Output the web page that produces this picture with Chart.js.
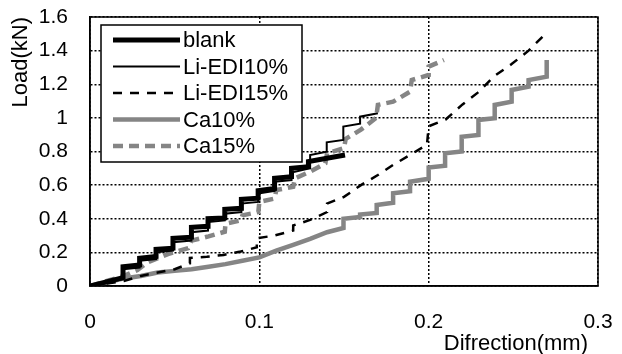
<!DOCTYPE html>
<html lang="en">
<head>
    <meta charset="UTF-8">
    <title>Load vs Difrection</title>
    <script src="https://cdn.jsdelivr.net/npm/chart.js"></script>
    <style>
        body { margin: 0; background: #fff; }
        #wrap { width: 622px; height: 354px; }
    </style>
</head>
<body>
    <div id="wrap"><canvas id="chart" width="622" height="354"></canvas></div>

    <script>
        // values (x = difrection in mm, y = load in kN)
        const blankX = [0,0.0195,0.0195,0.0293,0.0293,0.039,0.039,0.049,0.049,0.0599,0.0599,0.0697,0.0697,0.0796,0.0796,0.0894,0.0894,0.0993,0.0993,0.109,0.109,0.119,0.119,0.129,0.129,0.1506];
        const blankY = [0,0.05,0.115,0.125,0.165,0.175,0.218,0.225,0.284,0.29,0.349,0.355,0.40,0.405,0.456,0.462,0.516,0.522,0.567,0.58,0.641,0.65,0.70,0.71,0.74,0.779];

        const li10X = [0,0.0195,0.0195,0.0293,0.0293,0.039,0.039,0.049,0.049,0.0599,0.0599,0.0697,0.0697,0.0796,0.0796,0.0894,0.0894,0.0993,0.0993,0.109,0.109,0.119,0.119,0.13,0.13,0.1398,0.1398,0.1496,0.1496,0.1595,0.1595,0.17];
        const li10Y = [0,0.04,0.10,0.11,0.15,0.16,0.20,0.21,0.26,0.27,0.32,0.33,0.38,0.39,0.43,0.44,0.49,0.50,0.55,0.565,0.62,0.63,0.675,0.70,0.779,0.799,0.855,0.869,0.948,0.965,1.007,1.027];

        const li15X = [0,0.02,0.03,0.04,0.05,0.059,0.059,0.069,0.079,0.089,0.0985,0.0985,0.109,0.12,0.12,0.13,0.14,0.14,0.15,0.16,0.17,0.179,0.189,0.199,0.2,0.21,0.22,0.229,0.239,0.249,0.259,0.27];
        const li15Y = [0,0.03,0.06,0.08,0.10,0.135,0.167,0.174,0.185,0.205,0.23,0.284,0.30,0.33,0.36,0.393,0.44,0.49,0.53,0.60,0.66,0.72,0.78,0.84,0.95,0.99,1.08,1.15,1.25,1.32,1.40,1.51];

        const ca10X = [0,0.01,0.02,0.03,0.04,0.05,0.06,0.07,0.08,0.09,0.1,0.11,0.12,0.13,0.14,0.1497,0.1497,0.1595,0.1595,0.1693,0.1693,0.179,0.179,0.189,0.189,0.2,0.2,0.2097,0.2097,0.2195,0.2195,0.2294,0.2294,0.239,0.239,0.249,0.249,0.259,0.259,0.2697,0.2697];
        const ca10Y = [0,0.02,0.045,0.06,0.08,0.09,0.10,0.115,0.13,0.15,0.17,0.21,0.245,0.28,0.32,0.345,0.40,0.41,0.425,0.435,0.482,0.495,0.551,0.563,0.62,0.638,0.705,0.715,0.789,0.80,0.888,0.898,0.988,0.998,1.077,1.096,1.166,1.186,1.225,1.245,1.344];

        const ca15X = [0,0.01,0.02,0.028,0.034,0.046,0.058,0.06,0.07,0.0796,0.08,0.089,0.09,0.0994,0.1,0.109,0.11,0.12,0.121,0.13,0.139,0.14,0.15,0.151,0.16,0.169,0.17,0.179,0.189,0.19,0.2,0.2,0.209];
        const ca15Y = [0,0.03,0.06,0.095,0.14,0.19,0.225,0.27,0.295,0.323,0.37,0.39,0.42,0.44,0.50,0.52,0.571,0.59,0.64,0.68,0.73,0.789,0.82,0.875,0.93,1.00,1.077,1.096,1.156,1.225,1.255,1.305,1.344];

        const seriesNames = ['blank', 'Li-EDI10%', 'Li-EDI15%', 'Ca10%', 'Ca15%'];

        const xTicks = [0, 0.1, 0.2, 0.3];
        const xTickLabels = ['0', '0.1', '0.2', '0.3'];
        const yTicks = [0, 0.2, 0.4, 0.6, 0.8, 1.0, 1.2, 1.4, 1.6];
        const yTickLabels = ['0', '0.2', '0.4', '0.6', '0.8', '1', '1.2', '1.4', '1.6'];
        const xTitle = 'Difrection(mm)';

        const FONT = '"Liberation Sans", Arial, sans-serif';
        const GRAY = '#858585';

        function pts(xs, ys) {
            return xs.map((x, i) => ({ x: x, y: ys[i] }));
        }

        const styles = [
            { color: '#000', width: 5, dash: [] },
            { color: '#000', width: 2, dash: [] },
            { color: '#000', width: 2.5, dash: [9, 8] },
            { color: GRAY, width: 4.5, dash: [] },
            { color: GRAY, width: 4.5, dash: [10, 6] }
        ];
        const allData = [pts(blankX, blankY), pts(li10X, li10Y), pts(li15X, li15Y), pts(ca10X, ca10Y), pts(ca15X, ca15Y)];

        const datasets = seriesNames.map((name, i) => ({
            label: name,
            data: allData[i],
            borderColor: styles[i].color,
            borderWidth: styles[i].width,
            borderDash: styles[i].dash,
            pointRadius: 0,
            tension: 0,
            fill: false
        }));

        // drop the extra room the scales ask for round their end labels
        function noEndPadding(s) {
            s.paddingTop = 0;
            s.paddingBottom = 0;
            s.paddingLeft = 0;
            s.paddingRight = 0;
        }

        // frame around the plot area, the boxed legend and the x title
        const framePlugin = {
            id: 'frame',
            afterDatasetsDraw(chart) {
                const { ctx, chartArea: a } = chart;
                ctx.save();
                ctx.strokeStyle = '#000';
                ctx.lineWidth = 1.5;
                ctx.setLineDash([]);
                ctx.strokeRect(a.left, a.top, a.right - a.left, a.bottom - a.top);

                // legend box
                const bx = a.left + 11, by = a.top + 8, bw = 201, bh = 137;
                ctx.fillStyle = '#fff';
                ctx.fillRect(bx, by, bw, bh);
                ctx.lineWidth = 1.5;
                ctx.strokeRect(bx, by, bw, bh);

                ctx.font = '22px ' + FONT;
                ctx.textBaseline = 'middle';
                ctx.textAlign = 'left';
                seriesNames.forEach((name, i) => {
                    const y = by + 15 + i * 26.5;
                    ctx.beginPath();
                    ctx.strokeStyle = styles[i].color;
                    ctx.lineWidth = styles[i].width;
                    ctx.setLineDash(styles[i].dash);
                    ctx.moveTo(bx + 12, y);
                    ctx.lineTo(bx + 79, y);
                    ctx.stroke();
                    ctx.setLineDash([]);
                    ctx.fillStyle = '#000';
                    ctx.fillText(name, bx + 82, y + 1);
                });

                // x axis title, right aligned a little inside the frame
                ctx.textAlign = 'right';
                ctx.fillText(xTitle, a.right - 10, a.bottom + 58);
                ctx.restore();
            }
        };

        new Chart(document.getElementById('chart').getContext('2d'), {
            type: 'line',
            data: { datasets: datasets },
            options: {
                responsive: false,
                animation: false,
                layout: { padding: { left: 4, top: 17, right: 24, bottom: 0 } },
                plugins: {
                    legend: { display: false },
                    tooltip: { enabled: false }
                },
                scales: {
                    x: {
                        type: 'linear',
                        min: 0,
                        max: 0.3,
                        afterBuildTicks: (s) => { s.ticks = xTicks.map(v => ({ value: v })); },
                        afterFit: (s) => { s.height = 68; noEndPadding(s); },
                        ticks: {
                            padding: 24,
                            color: '#000',
                            font: { family: FONT, size: 21 },
                            maxRotation: 0,
                            callback: (v, i) => xTickLabels[i]
                        },
                        grid: { color: '#000', lineWidth: 1.5, drawTicks: false },
                        border: { display: true, color: '#000', width: 1.5, dash: [2, 2] }
                    },
                    y: {
                        type: 'linear',
                        min: 0,
                        max: 1.6,
                        afterBuildTicks: (s) => { s.ticks = yTicks.map(v => ({ value: v })); },
                        afterFit: (s) => { s.width = 86; noEndPadding(s); },
                        ticks: {
                            padding: 22,
                            color: '#000',
                            font: { family: FONT, size: 21 },
                            callback: (v, i) => yTickLabels[i]
                        },
                        grid: { color: '#000', lineWidth: 1.5, drawTicks: false },
                        border: { display: true, color: '#000', width: 1.5, dash: [2, 2] },
                        title: {
                            display: true,
                            text: 'Load(kN)',
                            align: 'end',
                            color: '#000',
                            font: { family: FONT, size: 22 },
                            padding: { top: 4, bottom: 0 }
                        }
                    }
                }
            },
            plugins: [framePlugin]
        });
    </script>
</body>
</html>
